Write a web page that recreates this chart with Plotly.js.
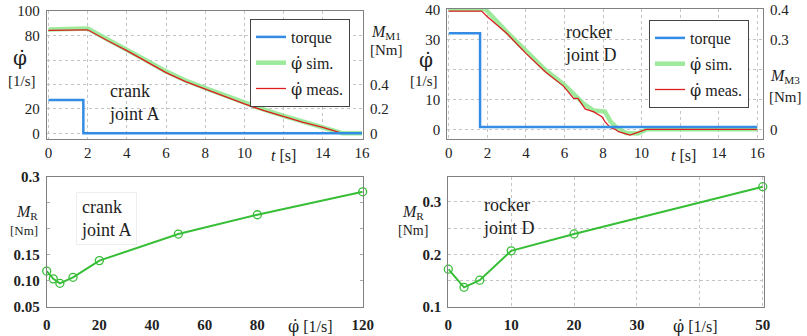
<!DOCTYPE html>
<html><head><meta charset="utf-8">
<script src="https://cdn.plot.ly/plotly-3.0.1.min.js"></script>
<style>html,body{margin:0;padding:0;background:#fff}#chart{width:807px;height:336px}</style>
</head><body><div id="chart"></div>
<script>
// ---- data ----
// top-left: crank joint A
const tTorqueA = [0, 1.78, 1.78, 16];
const torqueA  = [0.273, 0.273, 0, 0];
const tSimA  = [0, 1.8, 2, 3, 4, 5, 6, 7, 8, 9, 10, 11, 12, 13, 14, 14.6, 15, 16];
const simA   = [85, 86.5, 85.8, 77, 68.7, 59.7, 50.7, 43.2, 37, 31, 25, 19.3, 14.3, 9.6, 5.3, 2.3, 0, 0];
const tMeasA = [0, 1.8, 2, 3, 4, 5, 6, 7, 8, 9, 10, 11, 12, 13, 14, 14.6, 15, 16];
const measA  = [84.4, 85, 84.8, 76, 67.7, 58.7, 49.7, 42.3, 36, 30, 24, 18.5, 13.6, 9, 4.9, 2, 0, 0];
// top-right: rocker joint D
const tTorqueD = [0, 1.62, 1.62, 16];
const torqueD  = [0.32, 0.32, 0.008, 0.008];
const tSimD  = [0, 1.6, 1.9, 3, 4, 5, 6, 6.5, 7, 7.5, 8.1, 8.4, 8.7, 9.2, 9.8, 10.3, 16];
const simD   = [40, 40.2, 40, 32.5, 26, 19.8, 14.8, 11.5, 8.5, 6.3, 5.9, 2.5, 0.6, -1.2, -1.4, 0, 0];
const tMeasD = [0, 1.7, 2, 3, 4, 5, 5.95, 6.47, 6.7, 7.08, 7.5, 7.94, 8.11, 8.37, 8.63, 8.8, 9.4, 9.93, 10.24, 10.5, 16];
const measD  = [39.4, 39.4, 37.5, 32, 25.3, 19.2, 14.4, 10.3, 10.3, 6.7, 5.9, 4.2, 2.5, 0.6, 0, -0.8, -1.9, -0.8, 0, 0, 0];
// bottom: friction torque vs speed
const dphiA = [0, 2.5, 5, 10, 20, 50, 80, 120];
const mrA   = [0.119, 0.104, 0.0955, 0.107, 0.139, 0.19, 0.227, 0.271];
const dphiD = [0, 2.5, 5, 10, 20, 50];
const mrD   = [0.172, 0.1375, 0.151, 0.207, 0.239, 0.329];
// tick labels
const tTicks = [0, 2, 4, 6, 8, 10, 12, 14, 16];
const tTickText = ['0', '2', '4', '6', '8', '10', '', '14', '16'];
const wTicksA = [0, 20, 40, 60, 80, 100];
const wTickTextA = ['0', '20', '', '', '80', '100'];
const mTicksA = [0, 0.2, 0.4, 0.6, 0.8, 1.0];
const mTickTextA = ['0', '0.2', '0.4', '', '', ''];
const wTicksD = [0, 10, 20, 30, 40];
const wTickTextD = ['0', '10', '', '30', '40'];
const mTicksD = [0, 0.1, 0.2, 0.3, 0.4];
const mTickTextD = ['0', '', '', '0.3', '0.4'];
const xTicksA = [0, 20, 40, 60, 80, 100, 120];
const xTickTextA = ['0', '20', '40', '60', '80', '', '120'];
const yTicksA = [0.05, 0.1, 0.15, 0.2, 0.25, 0.3];
const yTickTextA = ['0.05', '0.10', '0.15', '', '', '0.3'];
const xTicksD = [0, 10, 20, 30, 40, 50];
const xTickTextD = ['0', '10', '20', '30', '', '50'];
const yTicksD = [0.1, 0.15, 0.2, 0.25, 0.3];
const yTickTextD = ['0.1', '', '0.2', '', '0.3'];

// ---- layout helpers ----
const W = 807, H = 336;
const px = x => x / W, py = y => 1 - y / H;
const SERIF = 'Liberation Serif';
const blue = 'rgb(52,140,228)', green = 'rgba(140,230,140,0.85)', red = 'rgb(220,30,30)', green2 = 'rgb(55,190,55)';
// φ with a dot above: DejaVu Serif places the combining dot correctly
const phiDot = '<span style="font-family:DejaVu Serif">φ\u0307</span>';

const traces = [
  {x: tTorqueA, y: torqueA, xaxis: 'x', yaxis: 'y2', mode: 'lines', name: 'torque', line: {color: blue, width: 2.5}, legend: 'legend', legendgroup: 'a1'},
  {x: tSimA, y: simA, xaxis: 'x', yaxis: 'y', mode: 'lines', name: phiDot + ' sim.', line: {color: green, width: 4.5}, legend: 'legend', legendgroup: 'a2'},
  {x: tMeasA, y: measA, xaxis: 'x', yaxis: 'y', mode: 'lines', name: phiDot + ' meas.', line: {color: red, width: 1.3}, legend: 'legend', legendgroup: 'a3'},
  {x: tTorqueD, y: torqueD, xaxis: 'x2', yaxis: 'y4', mode: 'lines', name: 'torque', line: {color: blue, width: 2.5}, legend: 'legend2', legendgroup: 'd1'},
  {x: tSimD, y: simD, xaxis: 'x2', yaxis: 'y3', mode: 'lines', name: phiDot + ' sim.', line: {color: green, width: 4.5}, legend: 'legend2', legendgroup: 'd2'},
  {x: tMeasD, y: measD, xaxis: 'x2', yaxis: 'y3', mode: 'lines', name: phiDot + ' meas.', line: {color: red, width: 1.3}, legend: 'legend2', legendgroup: 'd3'},
  {x: dphiA, y: mrA, xaxis: 'x3', yaxis: 'y5', mode: 'lines+markers', showlegend: false, cliponaxis: false,
   line: {color: green2, width: 2}, marker: {symbol: 'circle-open', size: 8, color: green2, line: {width: 1.3}}},
  {x: dphiD, y: mrD, xaxis: 'x4', yaxis: 'y6', mode: 'lines+markers', showlegend: false, cliponaxis: false,
   line: {color: green2, width: 2}, marker: {symbol: 'circle-open', size: 8, color: green2, line: {width: 1.3}}}
];

const tickFont = {family: SERIF, size: 15, color: '#222'};
const tickFontB = {family: SERIF, size: 15, color: '#222', weight: 'bold'};
const frame = {showline: true, linecolor: '#808080', linewidth: 1, zeroline: false, ticks: '', fixedrange: true};
const grid = {showgrid: true, gridcolor: '#c4c4c4', griddash: 'dot', gridwidth: 1};
const nogrid = {showgrid: false};

const dTopY = [py(139), py(11)];
const dTopY2 = [py(139), py(9)];
const dBotY = [py(307), py(176.7)];

const legendStyle = {xanchor: 'left', yanchor: 'top', bgcolor: '#fff', bordercolor: '#444', borderwidth: 1,
  font: {family: SERIF, size: 16, color: '#222'}, itemwidth: 30, traceorder: 'grouped', tracegroupgap: 2};

const layout = {
  width: W, height: H, margin: {l: 0, r: 0, t: 0, b: 0},
  paper_bgcolor: '#fff', plot_bgcolor: 'rgba(0,0,0,0)',
  font: {family: SERIF, size: 15, color: '#222'},
  showlegend: true,
  xaxis: Object.assign({}, frame, grid, {domain: [px(46.7), px(363)], anchor: 'y', range: [-0.09, 16.05], tickvals: tTicks, ticktext: tTickText, tickfont: tickFont, mirror: true, ticklabelstandoff: 0}),
  yaxis: Object.assign({}, frame, grid, {domain: dTopY, anchor: 'x', range: [-4.7, 100.2], tickvals: wTicksA, ticktext: wTickTextA, tickfont: tickFont, mirror: true, ticklabelstandoff: 3}),
  yaxis2: Object.assign({}, frame, nogrid, {overlaying: 'y', side: 'right', anchor: 'x', range: [-0.047, 1.002], tickvals: mTicksA, ticktext: mTickTextA, tickfont: tickFont, ticklabelstandoff: 3}),
  xaxis2: Object.assign({}, frame, grid, {domain: [px(447.3), px(763)], anchor: 'y3', range: [-0.08, 16.3], tickvals: tTicks, ticktext: tTickText, tickfont: tickFont, mirror: true, ticklabelstandoff: 0}),
  yaxis3: Object.assign({}, frame, grid, {domain: dTopY2, anchor: 'x2', range: [-3.23, 40.1], tickvals: wTicksD, ticktext: wTickTextD, tickfont: tickFont, mirror: true, ticklabelstandoff: 3}),
  yaxis4: Object.assign({}, frame, nogrid, {overlaying: 'y3', side: 'right', anchor: 'x2', range: [-0.0323, 0.401], tickvals: mTicksD, ticktext: mTickTextD, tickfont: tickFont, ticklabelstandoff: 3}),
  xaxis3: Object.assign({}, frame, nogrid, {domain: [px(46.7), px(362.7)], anchor: 'y5', range: [0, 120], tickvals: xTicksA, ticktext: xTickTextA, tickfont: tickFontB, mirror: true, ticklabelstandoff: 4}),
  yaxis5: Object.assign({}, frame, nogrid, {domain: dBotY, anchor: 'x3', range: [0.05, 0.3], tickvals: yTicksA, ticktext: yTickTextA, tickfont: tickFontB, mirror: 'ticks', ticks: 'inside', ticklen: 3, tickcolor: '#aaa', ticklabelstandoff: 3}),
  xaxis4: Object.assign({}, frame, grid, {domain: [px(448.3), px(764)], anchor: 'y6', range: [0, 50.2], tickvals: xTicksD, ticktext: xTickTextD, tickfont: tickFontB, mirror: true, ticklabelstandoff: 4}),
  yaxis6: Object.assign({}, frame, grid, {domain: dBotY, anchor: 'x4', range: [0.1, 0.348], tickvals: yTicksD, ticktext: yTickTextD, tickfont: tickFontB, mirror: true, ticklabelstandoff: 3}),
  legend: Object.assign({}, legendStyle, {x: px(250), y: py(19)}),
  legend2: Object.assign({}, legendStyle, {x: px(649), y: py(20)}),
  annotations: []
};

function ann(text, x, y, size, opts) {
  layout.annotations.push(Object.assign({text: text, x: px(x), y: py(y), xref: 'paper', yref: 'paper',
    showarrow: false, xanchor: 'center', yanchor: 'middle', font: {family: SERIF, size: size, color: '#222'}}, opts || {}));
}
// panel labels
ann('crank<br>joint A', 107, 102.5, 18, {xanchor: 'left', align: 'left'});
ann('rocker<br>joint D', 563, 43, 18, {xanchor: 'left', align: 'left'});
ann('crank<br>joint A', 76, 218, 18, {xanchor: 'left', align: 'left', bgcolor: '#fff', bordercolor: '#eeeeee', borderwidth: 1, borderpad: 4});
ann('rocker<br>joint D', 481, 216, 18, {xanchor: 'left', align: 'left'});
// axis titles
ann(phiDot, 20, 58, 20);
ann('[1/s]', 22, 81, 15);
ann('<i>M</i><sub>M1</sub>', 386, 33, 16);
ann('[Nm]', 386, 50, 15);
ann(phiDot, 426, 60, 20);
ann('[1/s]', 424, 81, 15);
ann('<i>M</i><sub>M3</sub>', 785, 77, 16);
ann('[Nm]', 785, 97, 15);
ann('<i>t</i> [s]', 283, 155, 16);
ann('<i>t</i> [s]', 683, 155, 16);
ann('<i>M</i><sub>R</sub>', 27, 212, 16);
ann('[Nm]', 24, 230, 13);
ann('<i>M</i><sub>R</sub>', 413, 212, 16);
ann('[Nm]', 413, 230, 14);
ann(phiDot + ' [1/s]', 310, 326, 16);
ann(phiDot + ' [1/s]', 695, 326, 16);

Plotly.newPlot('chart', traces, layout, {displayModeBar: false, staticPlot: true});
</script></body></html>
